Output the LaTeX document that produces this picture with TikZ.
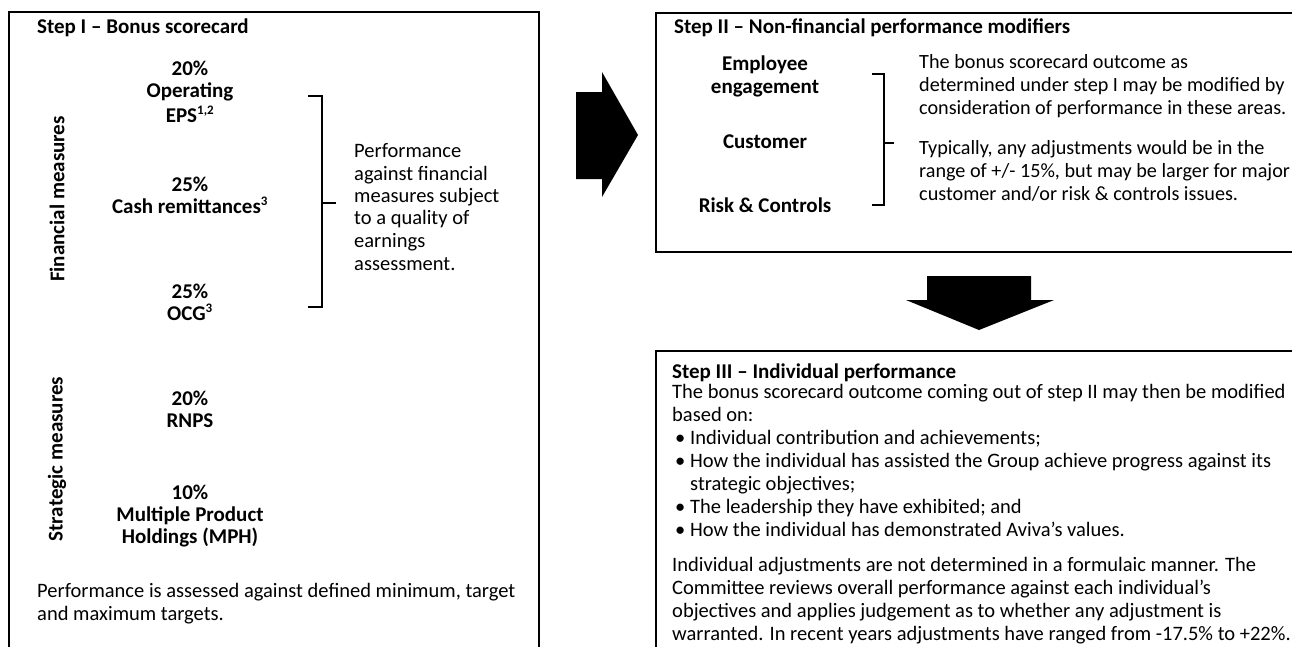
\documentclass[tikz,border=0pt]{standalone}
\usepackage{fontspec}
\setmainfont{Carlito}
\newcommand{\supnum}[1]{\textsuperscript{\fontsize{13}{13}\selectfont #1}}
\begin{document}
\begin{tikzpicture}[x=1pt,y=-1pt,
  frame/.style={draw=black, line width=1.4pt},
  brk/.style={draw=black, line width=1.4pt},
  blk/.style={fill=black, draw=none},
  lbl/.style={font=\fontsize{21}{23}\selectfont\bfseries, anchor=base, inner sep=0pt},
  ttl/.style={font=\fontsize{21}{23}\selectfont\bfseries, anchor=base west, inner sep=0pt},
  txt/.style={font=\fontsize{20.5}{23}\selectfont, anchor=base west, inner sep=0pt},
  rtxt/.style={font=\fontsize{20.2}{23}\selectfont, anchor=base west, inner sep=0pt},
  vlbl/.style={font=\fontsize{21}{23}\selectfont\bfseries, rotate=90, anchor=center, inner sep=0pt}]
\useasboundingbox (0,0) rectangle (1292,646);
\clip (0,0) rectangle (1292,646);
\fill[white] (0,0) rectangle (1292,646);

% ---------- Box I ----------
\draw[frame] (9,12) rectangle (539,700);
\node[ttl] (t1) at (37,33) {Step I – Bonus scorecard};
\node[vlbl] (fin) at (57,199) {Financial measures};
\node[vlbl] (str) at (57,459) {Strategic measures};

\node[lbl] (m1a) at (190,75) {20\%};
\node[lbl] (m1b) at (190,97) {Operating};
\node[lbl] (m1c) at (190,122) {EPS\supnum{1,2}};
\node[lbl] (m2a) at (190,191) {25\%};
\node[lbl] (m2b) at (190,213) {Cash remittances\supnum{3}};
\node[lbl] (m3a) at (190,298) {25\%};
\node[lbl] (m3b) at (190,320) {OCG\supnum{3}};
\node[lbl] (m4a) at (190,405) {20\%};
\node[lbl] (m4b) at (190,427) {RNPS};
\node[lbl] (m5a) at (190,499) {10\%};
\node[lbl] (m5b) at (190,521) {Multiple Product};
\node[lbl] (m5c) at (190,543) {Holdings (MPH)};

\coordinate (b1t) at (308,96);
\coordinate (b1b) at (308,307);
\coordinate (b1m) at (322,203);
\draw[brk] (b1t) -- (322,96) -- (322,307) -- (b1b);
\draw[brk] (b1m) -- (336,203);

\node[txt] (q1) at (354,157) {Performance};
\node[txt] (q2) at (354,180) {against financial};
\node[txt] (q3) at (354,202) {measures subject};
\node[txt] (q4) at (354,224) {to a quality of};
\node[txt] (q5) at (354,247) {earnings};
\node[txt] (q6) at (354,270) {assessment.};

\node[txt] (f1) at (37,597) {Performance is assessed against defined minimum, target};
\node[txt] (f2) at (37,620) {and maximum targets.};

% ---------- right arrow ----------
\fill[blk] (576,92) -- (602,92) -- (602,72) -- (638,135) -- (602,197) -- (602,179) -- (576,179) -- cycle;

% ---------- Box II ----------
\draw[frame] (656,13) rectangle (1320,252);
\node[ttl] (t2) at (674,33) {Step II – Non-financial performance modifiers};
\node[lbl] (e1) at (765,70) {Employee};
\node[lbl] (e2) at (765,93) {engagement};
\node[lbl] (cu) at (765,148) {Customer};
\node[lbl] (rc) at (765,212) {Risk \& Controls};

\coordinate (b2t) at (872,74);
\coordinate (b2b) at (872,205);
\coordinate (b2m) at (884,143);
\draw[brk] (b2t) -- (884,74) -- (884,205) -- (b2b);
\draw[brk] (b2m) -- (894,143);

\node[rtxt] (r1) at (919,68) {The bonus scorecard outcome as};
\node[rtxt] (r2) at (919,91) {determined under step I may be modified by};
\node[rtxt] (r3) at (919,114) {consideration of performance in these areas.};
\node[rtxt] (r4) at (919,154) {Typically, any adjustments would be in the};
\node[rtxt] (r5) at (919,177) {range of +/- 15\%, but may be larger for major};
\node[rtxt] (r6) at (919,200) {customer and/or risk \& controls issues.};

% ---------- down arrow ----------
\fill[blk] (927,276) -- (1031,276) -- (1031,300) -- (1054,300) -- (979,330) -- (906,300) -- (927,300) -- cycle;

% ---------- Box III ----------
\draw[frame] (656,351) rectangle (1320,700);
\node[ttl] (t3) at (672,378) {Step III – Individual performance};
\node[txt] (s1) at (672,398) {The bonus scorecard outcome coming out of step II may then be modified};
\node[txt] (s2) at (672,421) {based on:};
\node[txt] (d1) at (675,444) {•};
\node[txt] (s3) at (690,444) {Individual contribution and achievements;};
\node[txt] (d2) at (675,467) {•};
\node[txt] (s4) at (690,467) {How the individual has assisted the Group achieve progress against its};
\node[txt] (s5) at (690,490) {strategic objectives;};
\node[txt] (d3) at (675,513) {•};
\node[txt] (s6) at (690,513) {The leadership they have exhibited; and};
\node[txt] (d4) at (675,536) {•};
\node[txt] (s7) at (690,536) {How the individual has demonstrated Aviva’s values.};
\node[txt] (p1) at (672,571) {Individual adjustments are not determined in a formulaic manner. The};
\node[txt] (p2) at (672,594) {Committee reviews overall performance against each individual’s};
\node[txt] (p3) at (672,617) {objectives and applies judgement as to whether any adjustment is};
\node[txt] (p4) at (672,640) {warranted. In recent years adjustments have ranged from -17.5\% to +22\%.};
\end{tikzpicture}
\end{document}
